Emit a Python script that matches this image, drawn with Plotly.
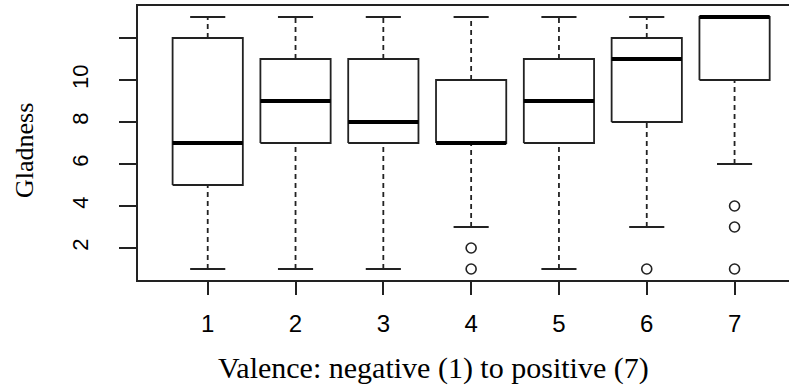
import plotly.graph_objects as go

valence = [1, 2, 3, 4, 5, 6, 7]
q1 = [5, 7, 7, 7, 7, 8, 10]
median = [7, 9, 8, 7, 9, 11, 13]
q3 = [12, 11, 11, 10, 11, 12, 13]
lower_whisker = [1, 1, 1, 3, 1, 3, 6]
upper_whisker = [13, 13, 13, 13, 13, 13, 13]
outlier_x = [4, 4, 6, 7, 7, 7]
outlier_y = [2, 1, 1, 4, 3, 1]
y_ticks = [2, 4, 6, 8, 10, 12]
y_ticktext = ["2", "4", "6", "8", "10", ""]
x_title = "Valence: negative (1) to positive (7)"
y_title = "Gladness"

HW = 0.4   # half box width
CW = 0.2   # half cap width
LC = "#222222"

bx, by, mx, my, wx, wy, cx, cy = [], [], [], [], [], [], [], []
for v, a, m, b, lo, hi in zip(valence, q1, median, q3, lower_whisker, upper_whisker):
    bx += [v - HW, v + HW, v + HW, v - HW, v - HW, None]
    by += [a, a, b, b, a, None]
    mx += [v - HW, v + HW, None]
    my += [m, m, None]
    if hi > b:
        wx += [v, v, None]
        wy += [b, hi, None]
    if lo < a:
        wx += [v, v, None]
        wy += [lo, a, None]
    cx += [v - CW, v + CW, None, v - CW, v + CW, None]
    cy += [hi, hi, None, lo, lo, None]

fig = go.Figure()
fig.add_trace(go.Scatter(x=wx, y=wy, mode="lines",
                         line=dict(color=LC, width=1.8, dash="5px,4px"), hoverinfo="skip"))
fig.add_trace(go.Scatter(x=cx, y=cy, mode="lines",
                         line=dict(color=LC, width=1.8), hoverinfo="skip"))
fig.add_trace(go.Scatter(x=bx, y=by, mode="lines",
                         line=dict(color=LC, width=1.8), hoverinfo="skip"))
fig.add_trace(go.Scatter(x=mx, y=my, mode="lines",
                         line=dict(color="black", width=4), hoverinfo="skip"))
fig.add_trace(go.Scatter(x=outlier_x, y=outlier_y, mode="markers",
                         marker=dict(symbol="circle-open", size=10, color=LC,
                                     line=dict(width=1.6, color=LC)),
                         hoverinfo="skip"))

fig.update_layout(
    width=789, height=385,
    margin=dict(l=138, r=0, t=6, b=105),
    paper_bgcolor="white", plot_bgcolor="white",
    showlegend=False,
    font=dict(family="Liberation Sans, Arial", color="black"),
)
fig.update_xaxes(
    automargin=False,
    range=[0.206, 7.62], tickvals=valence, ticktext=[str(v) for v in valence],
    ticks="outside", ticklen=13, tickwidth=1.8, tickcolor=LC,
    showline=True, linecolor=LC, linewidth=1.8, mirror=True,
    showgrid=False, zeroline=False,
    tickfont=dict(size=24, family="Liberation Sans, Arial", color="black"),
    ticklabelstandoff=8,
)
fig.update_yaxes(
    automargin=False,
    range=[0.476, 13.524], tickvals=y_ticks, ticktext=y_ticktext,
    ticks="outside", ticklen=17, tickwidth=1.8, tickcolor=LC,
    showline=True, linecolor=LC, linewidth=1.8, mirror=False,
    showgrid=False, zeroline=False, tickangle=-90,
    tickfont=dict(size=22, family="Liberation Sans, Arial", color="black"),
    ticklabelstandoff=22,
)
fig.add_annotation(text=x_title, xref="paper", yref="paper",
                   x=0.4532, y=-0.322, xanchor="center", yanchor="middle",
                   showarrow=False,
                   font=dict(family="Liberation Serif, Times New Roman", size=30, color="black"))
fig.add_annotation(text=y_title, xref="paper", yref="paper",
                   x=-0.1736, y=0.4745, xanchor="center", yanchor="middle",
                   textangle=-90, showarrow=False,
                   font=dict(family="Liberation Serif, Times New Roman", size=26, color="black"))
fig.write_html("out.html", config={"displayModeBar": False},
               post_script="document.body.style.margin='0';document.body.style.overflow='hidden';")
